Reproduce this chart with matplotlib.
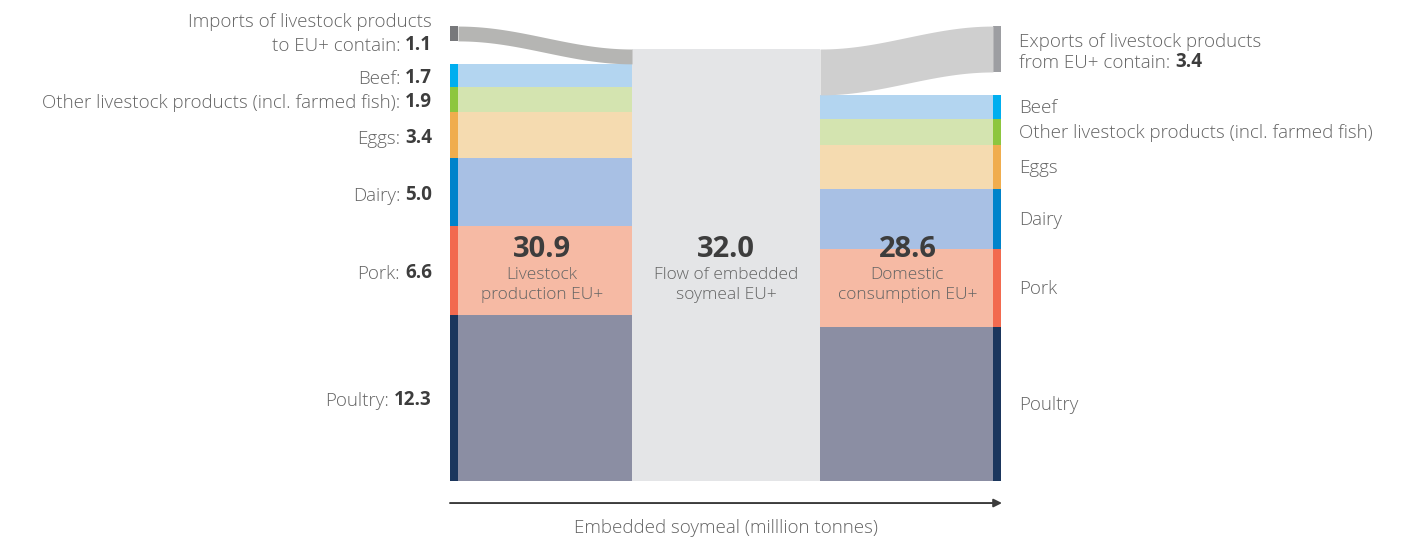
import numpy as np
import matplotlib.pyplot as plt
from matplotlib.patches import Rectangle

plt.rcParams['font.family'] = ['Open Sans', 'DejaVu Sans']

# million tonnes of embedded soymeal
categories = ['Poultry', 'Pork', 'Dairy', 'Eggs',
              'Other livestock products (incl. farmed fish)', 'Beef']
production = [12.3, 6.6, 5.0, 3.4, 1.9, 1.7]
consumption = [11.4, 5.8, 4.4, 3.3, 1.9, 1.8]
imports = 1.1
exports = 3.4
total_production = 30.9
total_flow = 32.0
total_consumption = 28.6

strip_colors = ['#1b365d', '#f26a4f', '#0083cb', '#f0ad4e', '#8dc63f', '#00aeef']
fill_colors = ['#8b8ea3', '#f6baa4', '#a8c0e4', '#f5dbb0', '#d4e4b0', '#b3d5f0']

# layout (x in pixels, y in million tonnes)
L_STRIP, L_BAR, MID, R_BAR, R_STRIP = 450, 458, 632, 820, 993
STRIP_W = 8
TRADE_TOP = 33.7
TXT = '#646464'
NUM = '#3d3d3d'
FS = 13.5
W = 'light'

fig = plt.figure(figsize=(14.02, 5.38), dpi=100)
ax = fig.add_axes([0, 0, 1, 1])
ax.set_xlim(0, 1402)
ax.set_ylim(-4.22, 35.63)
ax.axis('off')


def band(x0, x1, lo0, hi0, lo1, hi1, color):
    x = np.linspace(x0, x1, 200)
    t = (1 - np.cos(np.pi * (x - x0) / (x1 - x0))) / 2
    ax.fill_between(x, lo0 + (lo1 - lo0) * t, hi0 + (hi1 - hi0) * t,
                    color=color, lw=0)


# middle block
ax.add_patch(Rectangle((MID, 0), R_BAR - MID, total_flow, color='#e4e5e7', lw=0))

# left stack (production)
bottom = 0
for name, v, sc, fc in zip(categories, production, strip_colors, fill_colors):
    ax.add_patch(Rectangle((L_BAR, bottom), MID - L_BAR, v, color=fc, lw=0))
    ax.add_patch(Rectangle((L_STRIP, bottom), STRIP_W, v, color=sc, lw=0))
    t = ax.text(432, bottom + v / 2, f'{v:.1f}', ha='right', va='center_baseline',
                fontsize=FS, color=NUM, fontweight='bold')
    ax.annotate(f'{name}:', xy=(0, 0), xycoords=t, xytext=(-3.5, 0),
                textcoords='offset points', ha='right', va='bottom',
                fontsize=FS, color=TXT, fontweight=W)
    bottom += v

# right stack (consumption)
bottom = 0
for name, v, sc, fc in zip(categories, consumption, strip_colors, fill_colors):
    ax.add_patch(Rectangle((R_BAR, bottom), R_STRIP - R_BAR, v, color=fc, lw=0))
    ax.add_patch(Rectangle((R_STRIP, bottom), STRIP_W, v, color=sc, lw=0))
    ax.text(1019, bottom + v / 2 + 0.1, name, ha='left', va='center_baseline',
            fontsize=FS, color=TXT, fontweight=W)
    bottom += v

# imports flow
ax.add_patch(Rectangle((L_STRIP, TRADE_TOP - imports), STRIP_W, imports,
                       color='#77787b', lw=0))
band(L_BAR, MID, TRADE_TOP - imports, TRADE_TOP,
     total_production, total_flow, '#b5b5b3')
imp_c = TRADE_TOP - imports / 2
ax.text(432, imp_c + 1.0, 'Imports of livestock products', ha='right',
        va='center_baseline', fontsize=FS, color=TXT, fontweight=W)
t = ax.text(432, imp_c - 0.7, f'{imports:.1f}', ha='right', va='center_baseline',
            fontsize=FS, color=NUM, fontweight='bold')
ax.annotate('to EU+ contain:', xy=(0, 0), xycoords=t, xytext=(-3.5, 0),
            textcoords='offset points', ha='right', va='bottom',
            fontsize=FS, color=TXT, fontweight=W)

# exports flow
ax.add_patch(Rectangle((R_STRIP, TRADE_TOP - exports), STRIP_W, exports,
                       color='#9d9ea2', lw=0))
band(R_BAR, R_STRIP, total_consumption, total_flow,
     TRADE_TOP - exports, TRADE_TOP, '#cfcfcf')
exp_c = TRADE_TOP - exports / 2
ax.text(1019, exp_c + 0.7, 'Exports of livestock products', ha='left',
        va='center_baseline', fontsize=FS, color=TXT, fontweight=W)
t = ax.text(1019, exp_c - 0.86, 'from EU+ contain:', ha='left',
            va='center_baseline', fontsize=FS, color=TXT, fontweight=W)
ax.annotate(f'{exports:.1f}', xy=(1, 0), xycoords=t, xytext=(3.5, 0),
            textcoords='offset points', ha='left', va='bottom',
            fontsize=FS, color=NUM, fontweight='bold')

# totals
centres = [((L_BAR + MID) / 2 - 3, total_production, 'Livestock\nproduction EU+'),
           ((MID + R_BAR) / 2, total_flow, 'Flow of embedded\nsoymeal EU+'),
           ((R_BAR + R_STRIP) / 2 + 1, total_consumption, 'Domestic\nconsumption EU+')]
for x, v, lab in centres:
    ax.text(x, 17.4, f'{v:.1f}', ha='center', va='center_baseline',
            fontsize=21, fontweight='bold', color=NUM)
    ax.text(x, 14.5, lab, ha='center', va='center', fontsize=12.5,
            color=TXT, linespacing=1.3, fontweight=W)

# axis arrow
ax.annotate('', xy=(R_STRIP + STRIP_W + 1, -1.63), xytext=(L_STRIP, -1.63),
            arrowprops=dict(arrowstyle='-|>', color='#3c3c3c', lw=1.4,
                            mutation_scale=12, shrinkA=0, shrinkB=0))
ax.text((L_STRIP + R_STRIP + STRIP_W) / 2, -3.45,
        'Embedded soymeal (milllion tonnes)', ha='center', va='center',
        fontsize=13.5, color=TXT, fontweight=W)

fig.savefig('out.png', dpi=100)
